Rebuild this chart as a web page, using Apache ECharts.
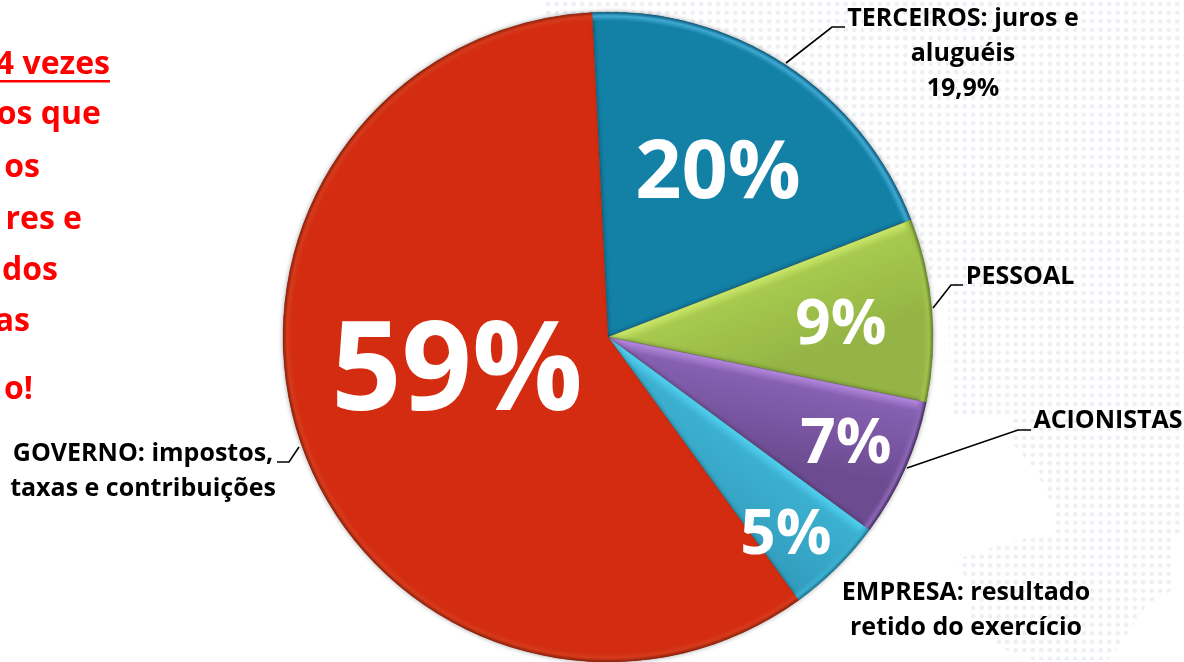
<!DOCTYPE html>
<html><head><meta charset="utf-8">
<style>html,body{margin:0;padding:0;background:#fff;overflow:hidden}#c{width:1184px;height:662px}</style>
<script src="https://cdn.jsdelivr.net/npm/echarts@6/dist/echarts.min.js"></script>
</head><body><div id="c"></div>
<script>
const names = ['TERCEIROS: juros e\naluguéis\n19,9%', 'PESSOAL', 'ACIONISTAS', 'EMPRESA: resultado\nretido do exercício', 'GOVERNO: impostos,\ntaxas e contribuições'];
const values = [19.9, 9.1, 6.9, 4.9, 59.2];
const percentLabels = ['20%', '9%', '7%', '5%', '59%'];
const percentSizes = [81, 62, 62, 62, 123];
const percentPos = [[718,175],[841,326],[846,445],[786,536],[457,375]];
const outerPos = [[963,54],[1020,277],[1108,421],[966,610],[143,471]];
const edgeLight = ['#1a86aa', '#cdea6c', '#b78ae0', '#52d2f2', '#d32c10'];
const mainTop = ['#1380a6', '#a6c94e', '#8660b2', '#3cb0d0', '#d32c10'];
const mainBottom = ['#1380a6', '#94b545', '#6c4b90', '#329dbe', '#d32c10'];
const rimLight = ['#3fa9d2', '#a0c24a', '#8d66b6', '#3cb0d0', '#d63a1c'];
const rimDark = ['#0b5a7c', '#5f7d28', '#3f2a5c', '#1c6f8c', '#8a2009'];
const sideText = [['4 vezes',110,65],['os que',101,115],['os',40,168],['res e',82,220],['dos',58,271],['as',30,322],['o!',33,390]];
const leaders = [
  [[786,63],[832,27],[845,27]],
  [[933,308],[951,285],[963,285]],
  [[907,468],[1018,430],[1031,430]],
  [[299,447],[289,462],[277,462]]
];
const mapShape = [[545,0],[1184,0],[1184,530],[1172,540],[1172,590],[1147,605],[1133,625],[1117,650],[1108,660],[1033,660],[1000,648],[967,613],[977,597],[955,560],[1005,543],[1053,533],[1053,507],[1037,473],[1010,440],[1010,418],[950,416],[948,280],[760,280],[545,30]];

const cx = 608, cy = 337, R = 325, startAngle = 92.8;
const font = '"Open Sans", Lato, sans-serif';
const total = values.reduce((a,b)=>a+b,0);

const tile = document.createElement('canvas');
tile.width = 17; tile.height = 17;
const tc = tile.getContext('2d');
tc.fillStyle = '#ecf0f5';
[[4.25,4.25],[12.75,4.25],[4.25,12.75],[12.75,12.75]].forEach(p=>{tc.beginPath();tc.arc(p[0],p[1],2.3,0,7);tc.fill();});

let acc = 0;
const baseData = [], rimData = [];
values.forEach((v,i)=>{
  const a = (startAngle - acc/total*360)*Math.PI/180;
  acc += v;
  const ex = cx + 150*Math.cos(a), ey = cy - 150*Math.sin(a);
  const nx = Math.sin(a), ny = Math.cos(a);
  const span = i===0||i===4 ? 10 : 90;
  baseData.push({name:names[i], value:v, itemStyle:{color:{
    type:'linear', global:true, x:ex, y:ey, x2:ex+nx*span, y2:ey+ny*span,
    colorStops:[{offset:0,color:edgeLight[i]},{offset:.12,color:mainTop[i]},{offset:1,color:mainBottom[i]}]
  }}});
  rimData.push({name:names[i], value:v, itemStyle:{color:{
    type:'radial', global:true, x:cx, y:cy, r:R,
    colorStops:[{offset:.972,color:rimLight[i]+'00'},{offset:.988,color:rimLight[i]},{offset:1,color:rimDark[i]}]
  }}});
});

const graphic = [
  {type:'polygon', z:-1, silent:true, shape:{points:mapShape}, style:{fill:{image:tile, repeat:'repeat'}}},
  ...leaders.map(p=>({type:'polyline', z:1, silent:true, shape:{points:p}, style:{stroke:'#000', lineWidth:1.6, fill:null}})),
  ...sideText.map(t=>({type:'text', z:1, silent:true, x:t[1], y:t[2], style:{text:t[0], fill:'#ff0000', font:'bold 32px '+font, textAlign:'right', textVerticalAlign:'middle'}})),
  {type:'rect', z:1, silent:true, shape:{x:0,y:80,width:110,height:2.4}, style:{fill:'#ff0000'}}
];

const common = {type:'pie', center:[cx,cy], startAngle, clockwise:true, animation:false, silent:true, emphasis:{disabled:true}, labelLine:{show:false}};
const chart = echarts.init(document.getElementById('c'), null, {renderer:'canvas'});
chart.setOption({
  backgroundColor:'#fff',
  animation:false,
  graphic,
  series:[
    {...common, z:2, radius:[0,R], data:baseData, label:{show:false},
      itemStyle:{shadowBlur:5, shadowColor:'rgba(0,0,0,.35)', borderColor:'rgba(40,40,40,.35)', borderWidth:.6}},
    {...common, z:3, radius:[R-10,R], data:rimData, label:{show:false}},
    {...common, z:4, radius:[0,R],
      data:values.map((v,i)=>({name:names[i], value:v, label:{fontSize:percentSizes[i]}})),
      itemStyle:{color:'rgba(0,0,0,0)'},
      label:{show:true, position:'inside', formatter:p=>percentLabels[p.dataIndex], color:'#fff', fontFamily:font, fontWeight:'bold', textBorderWidth:0},
      labelLayout:p=>({x:percentPos[p.dataIndex][0], y:percentPos[p.dataIndex][1], align:'center', verticalAlign:'middle'})},
    {...common, z:5, radius:[0,R],
      data:values.map((v,i)=>({name:names[i], value:v})),
      itemStyle:{color:'rgba(0,0,0,0)'},
      label:{show:true, position:'inside', formatter:'{b}', color:'#000', fontFamily:font, fontWeight:'bold', fontSize:25, lineHeight:35, textBorderWidth:0},
      labelLayout:p=>({x:outerPos[p.dataIndex][0], y:outerPos[p.dataIndex][1], align:'center', verticalAlign:'middle'})}
  ]
});
</script></body></html>
